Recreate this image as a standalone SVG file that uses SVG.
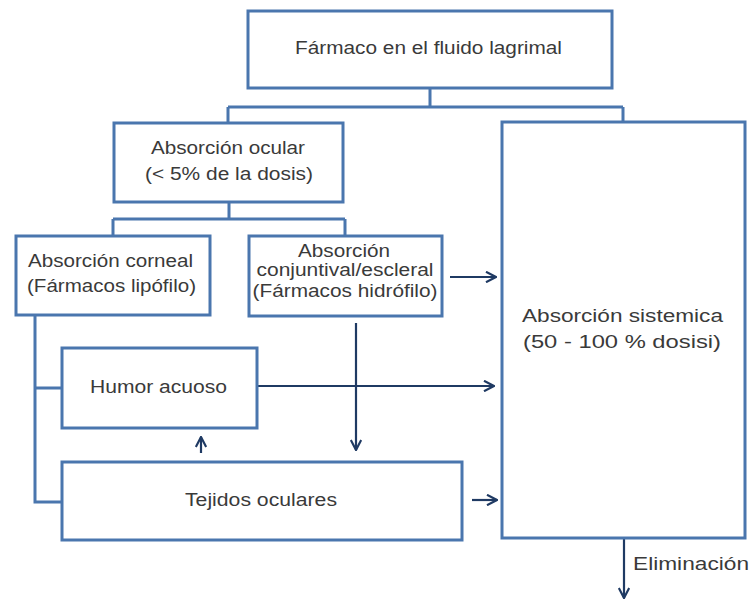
<svg xmlns="http://www.w3.org/2000/svg" width="755" height="600" viewBox="0 0 755 600">
<defs>
<style>
.box{fill:#fff;stroke:#4a76ae;stroke-width:3}
.tree{fill:none;stroke:#4a76ae;stroke-width:3}
.arr{fill:none;stroke:#1f3a63;stroke-width:2.2;marker-end:url(#ah)}
text{font-family:"Liberation Sans",Arial,sans-serif;font-size:17.5px;fill:#3a3a3a;text-anchor:middle}
</style>
<marker id="ah" viewBox="0 0 12 12" refX="11" refY="6" markerWidth="12" markerHeight="12" markerUnits="userSpaceOnUse" orient="auto">
<path d="M1,0.8 L11,6 L1,11.2" fill="none" stroke="#1f3a63" stroke-width="2.2"/>
</marker>
</defs>
<rect width="755" height="600" fill="#fff"/>
<g id="connectors">
<path class="tree" d="M430 88 V107 M228 107 H623 M228 107 V123 M623 107 V122"/>
<path class="tree" d="M229 202 V219 M113 219 H345 M113 219 V236 M345 219 V236"/>
<path class="tree" d="M35 315 V502 H62 M35 388 H62"/>
<path class="arr" d="M450 277 H496"/>
<path class="arr" d="M257 386 H494"/>
<path class="arr" d="M356 323 V450"/>
<path class="arr" d="M201 453 V437"/>
<path class="arr" d="M472 500 H497"/>
<path class="arr" d="M624 538 V598"/>
</g>
<g id="n-farmaco">
<rect class="box" x="248" y="11" width="364" height="77"/>
<text x="428.5" y="54" textLength="267" lengthAdjust="spacingAndGlyphs">Fármaco en el fluido lagrimal</text>
</g>
<g id="n-ocular">
<rect class="box" x="114" y="123" width="229" height="79"/>
<text x="228" y="154" textLength="154" lengthAdjust="spacingAndGlyphs">Absorción ocular</text>
<text x="229" y="180" textLength="168" lengthAdjust="spacingAndGlyphs">(&lt; 5% de la dosis)</text>
</g>
<g id="n-sistemica">
<rect class="box" x="502" y="122" width="243" height="416"/>
<text x="622.5" y="322" textLength="201" lengthAdjust="spacingAndGlyphs">Absorción sistemica</text>
<text x="622" y="348" textLength="198" lengthAdjust="spacingAndGlyphs">(50 - 100 % dosisi)</text>
</g>
<g id="n-corneal">
<rect class="box" x="16" y="236" width="194" height="79"/>
<text x="110.5" y="267" textLength="165" lengthAdjust="spacingAndGlyphs">Absorción corneal</text>
<text x="111.5" y="292" textLength="169" lengthAdjust="spacingAndGlyphs">(Fármacos lipófilo)</text>
</g>
<g id="n-conjuntival">
<rect class="box" x="249" y="236" width="193" height="80"/>
<text x="344" y="257" textLength="92" lengthAdjust="spacingAndGlyphs">Absorción</text>
<text x="345" y="276" textLength="177" lengthAdjust="spacingAndGlyphs">conjuntival/escleral</text>
<text x="345" y="297" textLength="185" lengthAdjust="spacingAndGlyphs">(Fármacos hidrófilo)</text>
</g>
<g id="n-humor">
<rect class="box" x="62" y="348" width="195" height="80"/>
<text x="158.5" y="393" textLength="137" lengthAdjust="spacingAndGlyphs">Humor acuoso</text>
</g>
<g id="n-tejidos">
<rect class="box" x="62" y="462" width="400" height="78"/>
<text x="261" y="506" textLength="152" lengthAdjust="spacingAndGlyphs">Tejidos oculares</text>
</g>
<g id="l-eliminacion">
<text x="691" y="570" textLength="116" lengthAdjust="spacingAndGlyphs">Eliminación</text>
</g>
</svg>
